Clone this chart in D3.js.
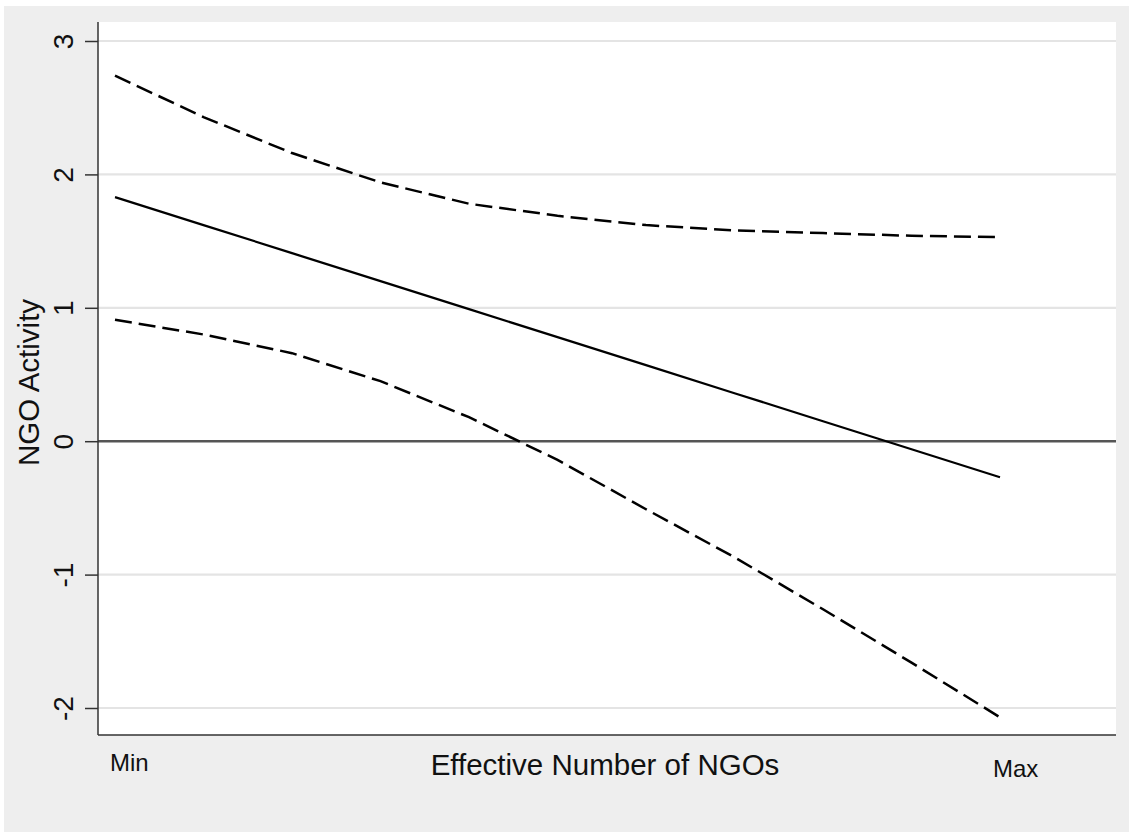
<!DOCTYPE html>
<html>
<head>
<meta charset="utf-8">
<script src="https://cdn.jsdelivr.net/npm/d3@7"></script>
<style>
  body { margin: 0; background: #fff; }
  text { font-family: "Liberation Sans", Arial, sans-serif; fill: #111; }
</style>
</head>
<body>
<div id="chart"></div>
<script>
// drawing space
const width = 1129,
  height = 832;

// plot box (white area)
const plot = { left: 98, right: 1116, top: 22, bottom: 735 };

// data: 11 evaluation points between Min and Max
const steps = [0, 1, 2, 3, 4, 5, 6, 7, 8, 9, 10];
const prediction = [1.83, 1.62, 1.41, 1.20, 0.99, 0.78, 0.57, 0.36, 0.15, -0.06, -0.27];
const upperCI = [2.74, 2.43, 2.16, 1.94, 1.78, 1.69, 1.62, 1.58, 1.56, 1.54, 1.53];
const lowerCI = [0.91, 0.80, 0.66, 0.45, 0.18, -0.14, -0.51, -0.87, -1.26, -1.66, -2.07];
const yTicks = [-2, -1, 0, 1, 2, 3];
const xLabels = ["Min", "Max"];

const xScale = d3.scaleLinear()
  .domain([0, 10])
  .range([115, 1000]);

const yScale = d3.scaleLinear()
  .domain([-2, 3])
  .range([708, 41]);

const svg = d3.select("#chart")
  .append("svg")
  .attr("width", width)
  .attr("height", height);

// outer gray background
svg.append("rect")
  .attr("x", 4).attr("y", 6)
  .attr("width", width - 4).attr("height", height - 6)
  .attr("fill", "#eeeeee");

// white plot region
svg.append("rect")
  .attr("x", plot.left).attr("y", plot.top)
  .attr("width", plot.right - plot.left).attr("height", plot.bottom - plot.top)
  .attr("fill", "#ffffff");

// gridlines
svg.selectAll(".grid")
  .data(yTicks.filter(d => d !== 0))
  .join("line")
  .attr("class", "grid")
  .attr("x1", plot.left).attr("x2", plot.right)
  .attr("y1", d => yScale(d)).attr("y2", d => yScale(d))
  .attr("stroke", "#e4e4e4")
  .attr("stroke-width", 2.2);

// zero reference line
svg.append("line")
  .attr("x1", plot.left).attr("x2", plot.right)
  .attr("y1", yScale(0)).attr("y2", yScale(0))
  .attr("stroke", "#555")
  .attr("stroke-width", 2.5);

// y axis
const yAxis = d3.axisLeft(yScale)
  .tickValues(yTicks)
  .tickSize(13)
  .tickPadding(0)
  .tickFormat(d => d);

const yAxisGroup = svg.append("g")
  .attr("class", "yAxis")
  .attr("transform", `translate(${plot.left}, 0)`)
  .call(yAxis);

yAxisGroup.select(".domain")
  .attr("d", `M0,${plot.top}V${plot.bottom}`)
  .attr("stroke", "#333")
  .attr("stroke-width", 1.5);
yAxisGroup.selectAll(".tick line")
  .attr("stroke", "#333")
  .attr("stroke-width", 1.5);
yAxisGroup.selectAll(".tick text")
  .attr("x", null).attr("dy", null)
  .attr("transform", "translate(-25,0) rotate(-90)")
  .attr("text-anchor", "middle")
  .attr("font-size", 28)
  .attr("fill", "#111");

// x axis line
svg.append("line")
  .attr("x1", plot.left).attr("x2", plot.right)
  .attr("y1", plot.bottom).attr("y2", plot.bottom)
  .attr("stroke", "#333")
  .attr("stroke-width", 1.5);

// Min / Max labels
svg.append("text")
  .attr("x", xScale(0) - 5).attr("y", 771)
  .attr("font-size", 24)
  .text(xLabels[0]);
svg.append("text")
  .attr("x", xScale(10) - 7).attr("y", 777)
  .attr("font-size", 24)
  .text(xLabels[1]);

// axis titles
svg.append("text")
  .attr("x", (plot.left + plot.right) / 2 - 2).attr("y", 775)
  .attr("text-anchor", "middle")
  .attr("font-size", 29.5)
  .text("Effective Number of NGOs");

svg.append("text")
  .attr("transform", `translate(39, ${(plot.top + plot.bottom) / 2 + 4}) rotate(-90)`)
  .attr("text-anchor", "middle")
  .attr("font-size", 29.5)
  .text("NGO Activity");

// lines
const lineFunction = (values) => d3.line()
  .x((d, i) => xScale(steps[i]))
  .y(d => yScale(d))(values);

svg.append("path")
  .attr("d", lineFunction(upperCI))
  .attr("fill", "none")
  .attr("stroke", "#000")
  .attr("stroke-width", 2.5)
  .attr("stroke-dasharray", "17,7");

svg.append("path")
  .attr("d", lineFunction(lowerCI))
  .attr("fill", "none")
  .attr("stroke", "#000")
  .attr("stroke-width", 2.5)
  .attr("stroke-dasharray", "17,7");

svg.append("path")
  .attr("d", lineFunction(prediction))
  .attr("fill", "none")
  .attr("stroke", "#000")
  .attr("stroke-width", 2.2);
</script>
</body>
</html>
